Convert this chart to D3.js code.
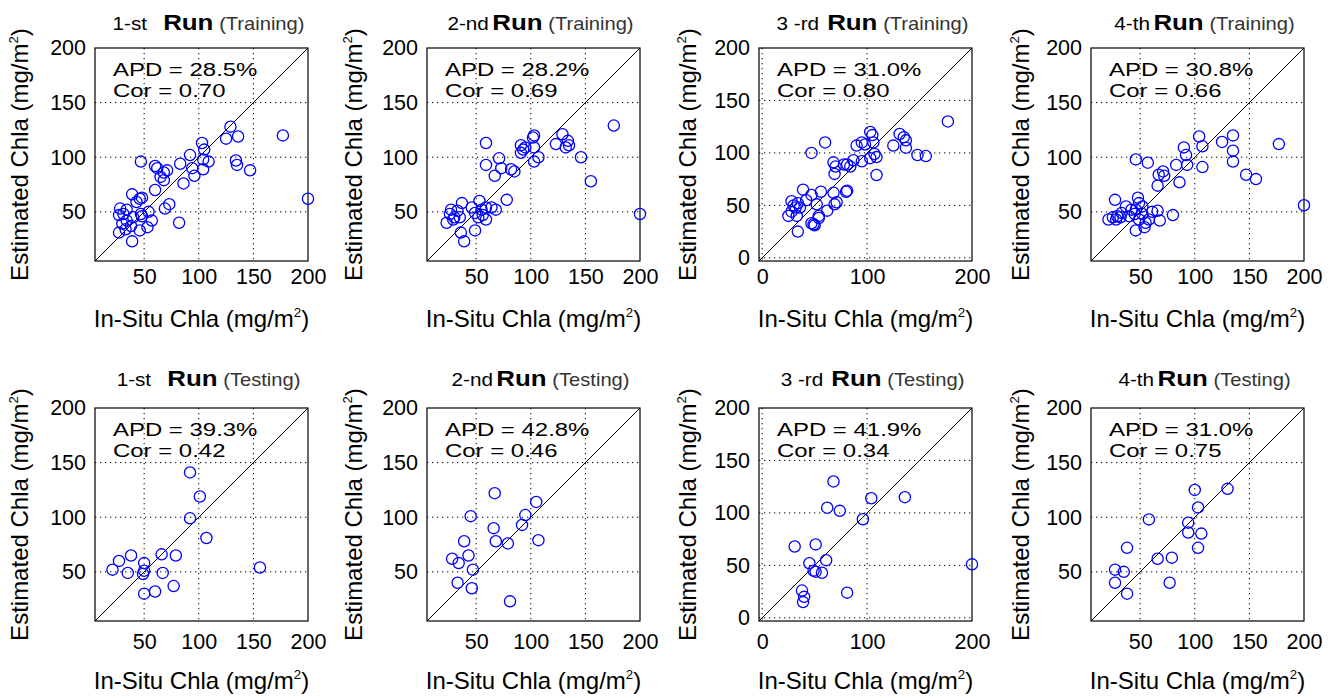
<!DOCTYPE html>
<html>
<head>
<meta charset="utf-8">
<script src="https://cdn.jsdelivr.net/npm/d3@7"></script>
<style>
  html, body { margin: 0; padding: 0; background: #fff; }
  svg { display: block; font-family: "Liberation Sans", Arial, sans-serif; }
</style>
</head>
<body>
<div id="chart"></div>
<script>
// titles and statistics, panel order: training runs 1-4, then testing runs 1-4
const runNames = ['1-st', '2-nd', '3 -rd', '4-th'];
const phases = ['Training', 'Testing'];
const apdValues = ['28.5', '28.2', '31.0', '30.8', '39.3', '42.8', '41.9', '31.0'];
const corValues = ['0.70', '0.69', '0.80', '0.66', '0.42', '0.46', '0.34', '0.75'];

// axis settings (3-rd run panels use a 0-based axis)
const ticksA = [50, 100, 150, 200];
const xTicksB = [0, 100, 200];
const yTicksB = [0, 50, 100, 150, 200];
const domainA = [5, 200];
const domainB = [-3, 200];

// in-situ (x) vs estimated (y) Chla, mg/m2
const run1TrainX = [129, 125, 136, 177, 103, 105, 92, 83, 94, 104, 104, 109, 96, 86, 134, 135, 147, 200, 47, 60, 62, 68, 65, 71, 68, 60, 39, 46, 48, 43, 73, 69, 82, 54, 57, 53, 46, 39, 27, 30, 28, 31, 34, 27, 34, 38, 48, 40, 33, 47];
const run1TrainY = [128, 117, 119, 120, 113, 107, 102, 94, 90, 98, 89, 96, 83, 76, 97, 93, 88, 62, 96, 92, 90, 86, 82, 88, 79, 70, 66, 62, 63, 59, 57, 53, 40, 50, 42, 36, 33, 23, 31, 39, 53, 48, 52, 47, 42, 37, 46, 45, 34, 48];

const run2TrainX = [176, 129, 123, 134, 135, 132, 103, 102, 91, 95, 93, 91, 103, 107, 103, 146, 155, 200, 59, 59, 71, 73, 82, 85, 67, 78, 37, 53, 46, 49, 55, 59, 64, 68, 56, 52, 59, 27, 26, 29, 23, 35, 33, 49, 36, 39, 30];
const run2TrainY = [129, 121, 112, 115, 111, 109, 120, 118, 111, 109, 107, 104, 109, 100, 96, 100, 78, 48, 113, 93, 99, 90, 89, 87, 83, 61, 58, 60, 54, 49, 52, 54, 54, 52, 47, 45, 43, 52, 48, 43, 40, 45, 51, 33, 31, 23, 45];

const run3TrainX = [177, 131, 135, 137, 125, 137, 148, 156, 103, 105, 95, 90, 98, 106, 107, 109, 103, 109, 95, 87, 84, 81, 78, 68, 70, 69, 60, 47, 39, 56, 47, 42, 52, 68, 81, 80, 71, 69, 62, 54, 49, 47, 28, 30, 34, 32, 36, 28, 25, 33, 34, 54, 50];
const run3TrainY = [130, 118, 115, 112, 107, 105, 98, 97, 120, 117, 110, 107, 108, 110, 99, 96, 95, 79, 92, 93, 87, 89, 89, 91, 87, 80, 110, 100, 65, 63, 60, 55, 51, 62, 64, 63, 53, 51, 45, 40, 32, 33, 54, 50, 52, 48, 48, 44, 40, 40, 25, 38, 31];

const run4TrainX = [177, 135, 125, 104, 107, 90, 92, 93, 107, 135, 135, 147, 156, 200, 46, 57, 71, 67, 72, 66, 83, 86, 27, 48, 49, 37, 42, 33, 29, 25, 21, 32, 46, 52, 52, 49, 55, 54, 46, 61, 66, 68, 80, 28, 40, 45, 58];
const run4TrainY = [112, 120, 114, 119, 110, 109, 102, 93, 91, 106, 96, 84, 80, 56, 98, 95, 87, 84, 83, 74, 93, 77, 61, 63, 58, 55, 52, 49, 46, 45, 43, 45, 52, 55, 48, 43, 40, 36, 33, 50, 51, 42, 47, 43, 46, 48, 43];

const run1TestX = [92, 101, 92, 107, 156, 66, 79, 67, 77, 60, 50, 50, 50, 49, 38, 27, 21, 35];
const run1TestY = [141, 119, 99, 81, 54, 66, 65, 49, 37, 32, 30, 58, 51, 48, 65, 60, 52, 49];

const run2TestX = [67, 105, 95, 92, 45, 66, 68, 79, 107, 39, 43, 28, 34, 47, 33, 46, 81];
const run2TestY = [122, 114, 102, 93, 101, 90, 78, 76, 79, 78, 65, 62, 58, 52, 40, 35, 23];

const run3TestX = [68, 104, 136, 62, 74, 96, 31, 51, 45, 61, 49, 51, 57, 38, 40, 39, 81, 200];
const run3TestY = [130, 114, 115, 105, 102, 94, 68, 70, 52, 55, 45, 44, 43, 26, 20, 15, 24, 51];

const run4TestX = [130, 100, 103, 94, 94, 106, 103, 58, 38, 66, 79, 27, 35, 27, 77, 38];
const run4TestY = [126, 125, 109, 95, 86, 85, 72, 98, 72, 62, 63, 52, 50, 40, 40, 30];

const panelX = [run1TrainX, run2TrainX, run3TrainX, run4TrainX, run1TestX, run2TestX, run3TestX, run4TestX];
const panelY = [run1TrainY, run2TrainY, run3TrainY, run4TrainY, run1TestY, run2TestY, run3TestY, run4TestY];

// layout
const width = 1338, height = 698;
const colLeft = [95, 427, 759, 1091];
const rowTop = [48, 408];
const boxSize = 213;
const yLabelX = [28, 362, 696, 1029];
const xTickPad = [8, 13];   // per row
const xLabelGap = [66, 68];
const titleGap = [18, 22];
const titleRunGap = [14, 3, 7, 3]; // space between "n-th" and "Run"
const stretch = 1.26;              // source text is wider than it is tall

const svg = d3.select('#chart').append('svg')
    .attr('width', width)
    .attr('height', height)
    .attr('viewBox', `0 0 ${width} ${height}`);

svg.append('rect').attr('width', width).attr('height', height).attr('fill', '#fff');

function addUnitLabel(sel, prefix) {
    sel.append('tspan').text(prefix + ' (mg/m');
    sel.append('tspan').text('2').attr('font-size', '0.55em').attr('dy', '-0.75em');
    sel.append('tspan').text(')').attr('dy', '0.41em');
}

function drawPanel(i) {
    const row = Math.floor(i / 4), col = i % 4;
    const left = colLeft[col], top = rowTop[row];
    const zeroBased = col === 2;
    const domain = zeroBased ? domainB : domainA;

    const x = d3.scaleLinear().domain(domain).range([0, boxSize]);
    const y = d3.scaleLinear().domain(domain).range([boxSize, 0]);
    const xTicks = zeroBased ? xTicksB : ticksA;
    const yTicks = zeroBased ? yTicksB : ticksA;

    const g = svg.append('g').attr('transform', `translate(${left},${top})`);

    // dotted grid
    g.selectAll('.vgrid').data(xTicks.filter(v => v < 200)).join('line')
        .attr('x1', d => x(d)).attr('x2', d => x(d))
        .attr('y1', 0).attr('y2', boxSize)
        .attr('stroke', '#000').attr('stroke-width', 1)
        .attr('stroke-dasharray', '1.3,3.7');
    g.selectAll('.hgrid').data(yTicks.filter(v => v < 200)).join('line')
        .attr('y1', d => y(d)).attr('y2', d => y(d))
        .attr('x1', 0).attr('x2', boxSize)
        .attr('stroke', '#000').attr('stroke-width', 1)
        .attr('stroke-dasharray', '1.3,3.7');

    // 1:1 line
    g.append('line')
        .attr('x1', x(domain[0])).attr('y1', y(domain[0]))
        .attr('x2', x(200)).attr('y2', y(200))
        .attr('stroke', '#000').attr('stroke-width', 1);

    // axes
    const xAxis = g.append('g').attr('transform', `translate(0,${boxSize})`)
        .call(d3.axisBottom(x).tickValues(xTicks).tickSize(0).tickPadding(xTickPad[row]));
    const yAxis = g.append('g')
        .call(d3.axisLeft(y).tickValues(yTicks).tickSize(0).tickPadding(9));
    [xAxis, yAxis].forEach(a => {
        a.select('.domain').remove();
        a.selectAll('text').attr('font-size', 21.5).attr('fill', '#000')
            .attr('font-family', '"Liberation Sans", Arial, sans-serif');
    });

    // frame
    g.append('rect').attr('width', boxSize).attr('height', boxSize)
        .attr('fill', 'none').attr('stroke', '#000').attr('stroke-width', 1.2);

    // points
    const pts = d3.zip(panelX[i], panelY[i]);
    g.selectAll('circle').data(pts).join('circle')
        .attr('cx', d => x(d[0])).attr('cy', d => y(d[1]))
        .attr('r', 5.6)
        .attr('fill', 'none').attr('stroke', '#0000ff').attr('stroke-width', 1.3);

    // stats text (one text block, two lines)
    const stats = g.append('text')
        .attr('transform', `translate(18,28) scale(${stretch},1)`)
        .attr('font-size', 19);
    stats.append('tspan').attr('x', 0).attr('y', 0).text(`APD = ${apdValues[i]}%`);
    stats.append('tspan').attr('x', 0).attr('y', 21.5).text(`Cor = ${corValues[i]}`);

    // title
    const title = g.append('text')
        .attr('transform', `translate(${boxSize / 2 + 7},${-titleGap[row]}) scale(1.15,1)`)
        .attr('text-anchor', 'middle');
    title.append('tspan').text(runNames[col]).attr('font-size', 18);
    title.append('tspan').text('Run').attr('font-size', 22.5).attr('font-weight', 'bold')
        .attr('dx', titleRunGap[col]);
    title.append('tspan').text(`(${phases[row]})`).attr('font-size', 17.5).attr('fill', '#333')
        .attr('dx', 5);

    // axis labels
    const xl = g.append('text')
        .attr('x', boxSize / 2).attr('y', boxSize + xLabelGap[row])
        .attr('text-anchor', 'middle').attr('font-size', 24);
    addUnitLabel(xl, 'In-Situ Chla');

    const yl = svg.append('text')
        .attr('transform', `translate(${yLabelX[col]},${top + boxSize / 2}) rotate(-90)`)
        .attr('text-anchor', 'middle').attr('font-size', 24);
    addUnitLabel(yl, 'Estimated Chla');
}

for (let i = 0; i < 8; i++) drawPanel(i);
</script>
</body>
</html>
